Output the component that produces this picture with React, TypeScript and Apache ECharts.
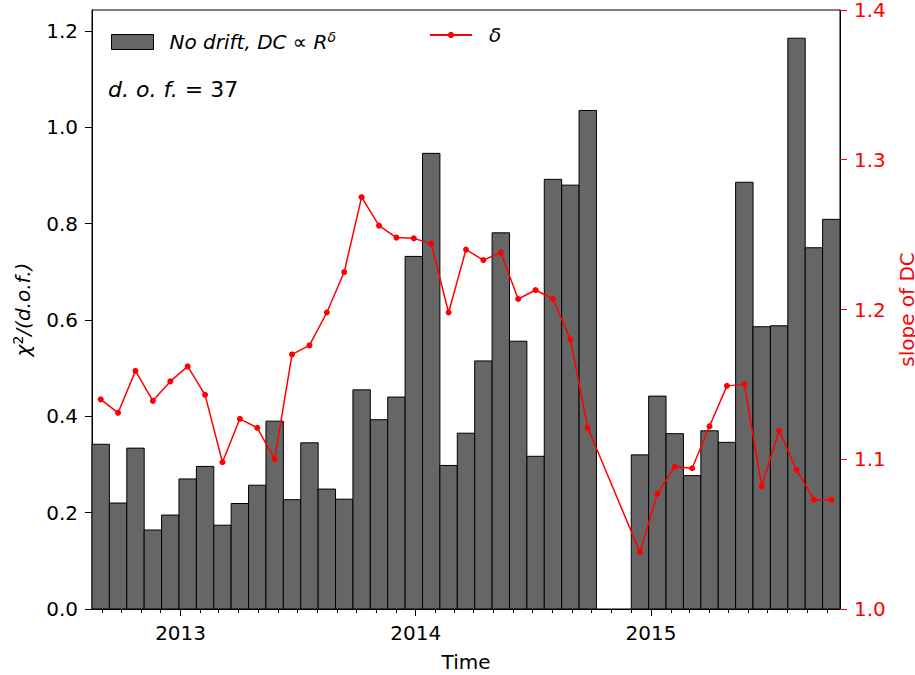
import React, { useEffect, useRef } from 'react';
import * as echarts from 'echarts';

// Centre dates of the 27-day rotations (two rotations missing in late 2014)
const rotationDates = [
  '2012-08-30', '2012-09-26', '2012-10-23', '2012-11-19', '2012-12-16',
  '2013-01-12', '2013-02-08', '2013-03-07', '2013-04-03', '2013-04-30',
  '2013-05-27', '2013-06-23', '2013-07-20', '2013-08-16', '2013-09-12',
  '2013-10-09', '2013-11-05', '2013-12-02', '2013-12-29', '2014-01-25',
  '2014-02-21', '2014-03-20', '2014-04-16', '2014-05-13', '2014-06-09',
  '2014-07-06', '2014-08-02', '2014-08-29', '2014-09-25',
  '2014-12-15', '2015-01-11', '2015-02-07', '2015-03-06', '2015-04-02',
  '2015-04-29', '2015-05-26', '2015-06-22', '2015-07-19', '2015-08-15',
  '2015-09-11', '2015-10-08',
];

// chi^2 / d.o.f. (left axis, bars)
const chi2PerDof = [
  0.342, 0.220, 0.334, 0.164, 0.195,
  0.270, 0.296, 0.174, 0.219, 0.257,
  0.390, 0.227, 0.345, 0.249, 0.228,
  0.455, 0.393, 0.440, 0.732, 0.946,
  0.298, 0.365, 0.515, 0.781, 0.556,
  0.317, 0.892, 0.880, 1.035,
  0.320, 0.442, 0.364, 0.277, 0.370,
  0.346, 0.886, 0.586, 0.588, 1.185,
  0.750, 0.809,
];

// slope of DC, delta (right axis, line)
const deltaSlope = [
  1.140, 1.131, 1.159, 1.139, 1.152,
  1.162, 1.143, 1.098, 1.127, 1.121,
  1.100, 1.170, 1.176, 1.198, 1.225,
  1.275, 1.256, 1.248, 1.2475, 1.244,
  1.198, 1.240, 1.233, 1.238, 1.207,
  1.213, 1.207, 1.180, 1.121,
  1.038, 1.077, 1.095, 1.094, 1.122,
  1.149, 1.150, 1.082, 1.119, 1.093,
  1.073, 1.073,
];

const yearTickLabels = ['2013', '2014', '2015'];
const leftTicks = [0, 0.2, 0.4, 0.6, 0.8, 1.0, 1.2];
const rightTicks = [1.0, 1.1, 1.2, 1.3, 1.4];
const ROTATION_DAYS = 27;
const LEFT_MAX = 1.2436;

const BAR_NAME = 'No drift, DC ∝ Rδ';
const LINE_NAME = 'δ';
const FONT = 'DejaVu Sans';
const DAY = 86400000;
const W = 915;
const H = 675;

function ts(s: string): number {
  const [y, m, d] = s.split('-').map(Number);
  return Date.UTC(y, m - 1, d);
}

export default function App() {
  const ref = useRef<HTMLDivElement>(null);

  useEffect(() => {
    document.body.style.margin = '0';
    document.body.style.overflow = 'hidden';
    document.documentElement.style.overflow = 'hidden';
    if (!ref.current) return;
    const chart = echarts.init(ref.current, null, { renderer: 'svg', width: W, height: H });

    const times = rotationDates.map(ts);
    const half = (ROTATION_DAYS / 2) * DAY;
    const xMin = times[0] - half;
    const xMax = times[times.length - 1] + half;

    // month-start minor ticks
    const monthTicks: number[] = [];
    const start = new Date(xMin);
    let y = start.getUTCFullYear();
    let m = start.getUTCMonth() + 1;
    for (;;) {
      if (m > 11) { m = 0; y += 1; }
      const t = Date.UTC(y, m, 1);
      if (t > xMax) break;
      monthTicks.push(t);
      m += 1;
    }
    const yearTicks = yearTickLabels.map((yy) => Date.UTC(Number(yy), 0, 1));

    const barData = times.map((t, i) => [t, chi2PerDof[i]]);
    const lineData = times.map((t, i) => [t, deltaSlope[i]]);

    const option: any = {
      animation: false,
      backgroundColor: '#fff',
      textStyle: { fontFamily: FONT },
      grid: {
        left: 92, right: 75, top: 10, bottom: 66,
        outerBoundsMode: 'none',
        containLabel: false,
        show: true, borderColor: '#000', borderWidth: 1, backgroundColor: 'transparent',
      },
      legend: [
        {
          left: 111, top: 30, padding: 0,
          itemWidth: 42, itemHeight: 15,
          selectedMode: false,
          data: [{ name: BAR_NAME, icon: 'rect', itemStyle: { color: '#666666', borderColor: '#000', borderWidth: 1 } }],
          formatter: () => '{a|No drift, DC ∝ R}{s|δ}',
          textStyle: {
            padding: [0, 0, 0, 11],
            rich: {
              a: { fontFamily: FONT, fontSize: 20, fontStyle: 'italic', color: '#000', lineHeight: 24 },
              s: { fontFamily: FONT, fontSize: 14, fontStyle: 'italic', color: '#000', verticalAlign: 'top', lineHeight: 14 },
            },
          },
        },
        {
          left: 429, top: 25, padding: 0,
          itemWidth: 42, itemHeight: 8,
          selectedMode: false,
          data: [{ name: LINE_NAME }],
          textStyle: { fontFamily: FONT, fontSize: 20, fontStyle: 'italic', color: '#000', padding: [0, 0, 0, 12] },
        },
      ],
      graphic: [
        {
          type: 'text', left: 108, top: 78,
          style: {
            text: '{i|d. o. f.}{n| = 37}',
            rich: {
              i: { fontFamily: FONT, fontSize: 22, fontStyle: 'italic', fill: '#000' },
              n: { fontFamily: FONT, fontSize: 22, fill: '#000' },
            },
          },
        },
      ],
      xAxis: [
        {
          type: 'value', min: xMin, max: xMax, position: 'bottom',
          axisLine: { show: true, lineStyle: { color: '#000', width: 1 } },
          axisTick: { show: true, customValues: monthTicks, length: 4, lineStyle: { color: '#000', width: 1 } },
          axisLabel: { show: false },
          splitLine: { show: false },
        },
        {
          type: 'value', min: xMin, max: xMax, position: 'bottom',
          axisLine: { show: false },
          axisTick: { show: true, customValues: yearTicks, length: 7, lineStyle: { color: '#000', width: 1 } },
          axisLabel: {
            show: true, customValues: yearTicks, margin: 14,
            fontFamily: FONT, fontSize: 20, color: '#000',
            formatter: (v: number) => String(new Date(v).getUTCFullYear()),
          },
          splitLine: { show: false },
          name: 'Time', nameLocation: 'middle', nameGap: 43,
          nameTextStyle: { fontFamily: FONT, fontSize: 20, color: '#000' },
        },
      ],
      yAxis: [
        {
          type: 'value', min: 0, max: LEFT_MAX, position: 'left',
          axisLine: { show: true, lineStyle: { color: '#000', width: 1 } },
          axisTick: { show: true, customValues: leftTicks, length: 7, lineStyle: { color: '#000', width: 1 } },
          axisLabel: {
            customValues: leftTicks, margin: 14,
            fontFamily: FONT, fontSize: 20, color: '#000',
            formatter: (v: number) => v.toFixed(1),
          },
          splitLine: { show: false },
          name: '{a|χ}{s|2}{a|/(d.o.f.)}',
          nameLocation: 'middle', nameGap: 57, nameRotate: 90,
          nameTextStyle: {
            rich: {
              a: { fontFamily: FONT, fontSize: 20, fontStyle: 'italic', color: '#000', lineHeight: 24 },
              s: { fontFamily: FONT, fontSize: 14, color: '#000', verticalAlign: 'top', lineHeight: 14 },
            },
          },
        },
        {
          type: 'value', min: 1.0, max: 1.4, interval: 0.1, position: 'right',
          axisLine: { show: true, lineStyle: { color: '#000', width: 1 } },
          axisTick: { show: true, customValues: rightTicks, length: 7, lineStyle: { color: '#ff0000', width: 1 } },
          axisLabel: {
            customValues: rightTicks, margin: 14,
            fontFamily: FONT, fontSize: 20, lineHeight: 18, color: '#ff0000',
            formatter: (v: number) => v.toFixed(1),
          },
          splitLine: { show: false },
          name: 'slope of DC', nameLocation: 'middle', nameGap: 50, nameRotate: 90,
          nameTextStyle: { fontFamily: FONT, fontSize: 20, lineHeight: 20, color: '#ff0000' },
        },
      ],
      series: [
        {
          name: BAR_NAME,
          type: 'custom',
          xAxisIndex: 0, yAxisIndex: 0,
          itemStyle: { color: '#666666' },
          encode: { x: 0, y: 1 },
          data: barData,
          renderItem: (params: any, api: any) => {
            const t = api.value(0);
            const v = api.value(1);
            const p0 = api.coord([t - half, v]);
            const p1 = api.coord([t + half, 0]);
            return {
              type: 'rect',
              shape: { x: p0[0], y: p0[1], width: p1[0] - p0[0], height: p1[1] - p0[1] },
              style: { fill: '#666666', stroke: '#000', lineWidth: 1 },
            };
          },
          z: 2,
        },
        {
          name: LINE_NAME,
          type: 'line',
          xAxisIndex: 0, yAxisIndex: 1,
          data: lineData,
          symbol: 'circle', symbolSize: 6, showSymbol: true,
          lineStyle: { color: '#ff0000', width: 1.5 },
          itemStyle: { color: '#ff0000' },
          z: 5,
        },
      ],
    };

    chart.setOption(option);
    return () => chart.dispose();
  }, []);

  return <div ref={ref} style={{ width: W, height: H, overflow: 'hidden' }} />;
}
